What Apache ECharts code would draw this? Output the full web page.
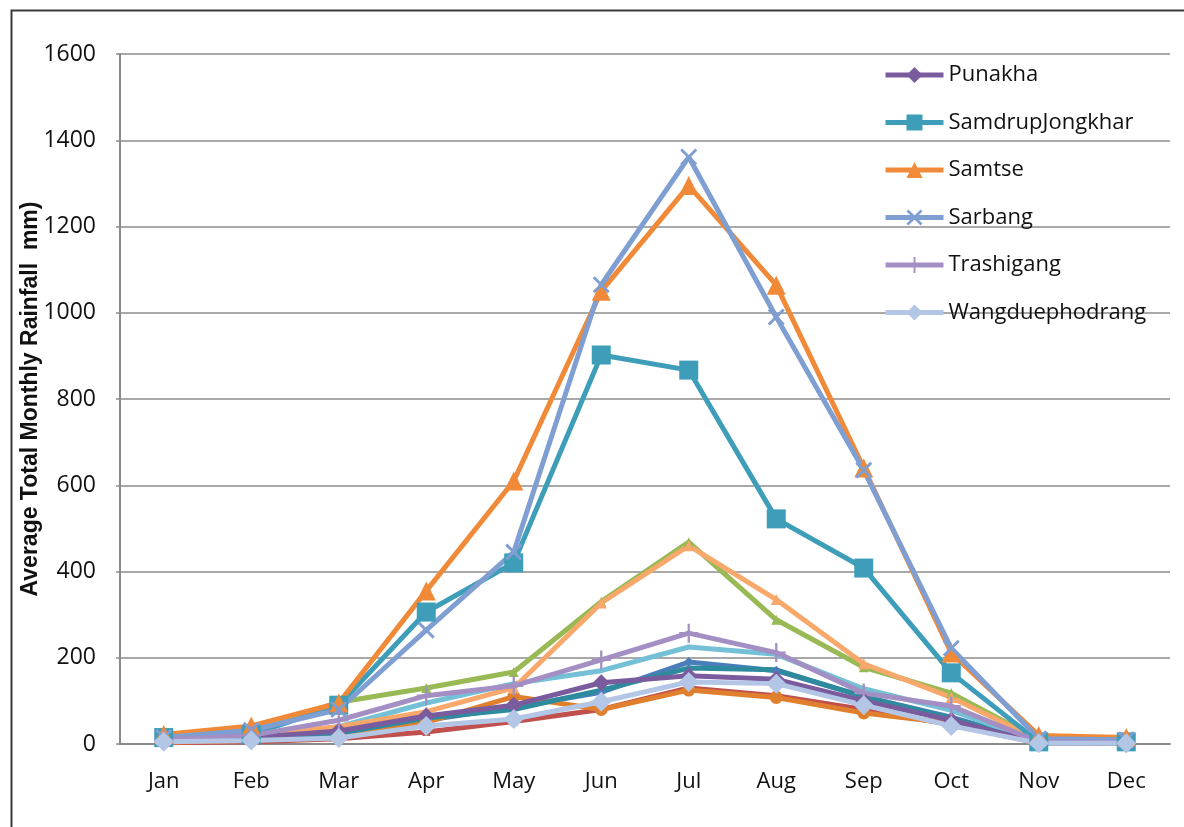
<!DOCTYPE html>
<html>
<head>
<meta charset="utf-8">
<script src="https://cdn.jsdelivr.net/npm/echarts@6/dist/echarts.min.js"></script>
<style>
html,body{margin:0;padding:0;background:#fff;}
#chart{width:1184px;height:827px;}
</style>
</head>
<body>
<div id="chart"></div>
<script>
const months = ['Jan','Feb','Mar','Apr','May','Jun','Jul','Aug','Sep','Oct','Nov','Dec'];
const yTicks = [0, 200, 400, 600, 800, 1000, 1200, 1400, 1600];
const yTitle = 'Average Total Monthly Rainfall  mm)';

// Stations not shown in the legend
const seriesA = [10, 15, 30, 55, 85, 120, 190, 170, 110, 62, 3, 2];
const seriesB = [3, 5, 12, 28, 52, 80, 130, 112, 80, 45, 2, 1];
const seriesC = [20, 30, 97, 130, 167, 330, 468, 288, 178, 118, 10, 8];
const seriesD = [4, 8, 20, 50, 110, 80, 125, 108, 72, 48, 3, 2];
const seriesE = [8, 12, 25, 60, 80, 125, 176, 172, 110, 60, 3, 2];
const seriesF = [10, 18, 40, 95, 140, 170, 225, 208, 128, 78, 5, 3];
const seriesG = [10, 20, 40, 75, 130, 327, 460, 335, 186, 108, 10, 8];

// Stations in the legend
const punakha = [10, 15, 30, 65, 90, 142, 158, 150, 100, 55, 3, 3];
const samdrupJongkhar = [15, 22, 90, 306, 420, 902, 867, 522, 408, 165, 5, 5];
const samtse = [22, 42, 95, 355, 610, 1050, 1295, 1064, 640, 211, 20, 15];
const sarbang = [15, 32, 80, 264, 445, 1065, 1361, 990, 635, 222, 12, 10];
const trashigang = [10, 20, 55, 112, 135, 195, 257, 212, 118, 88, 5, 3];
const wangduephodrang = [5, 8, 14, 42, 58, 98, 144, 140, 90, 42, 2, 2];

const legendNames = ['Punakha','SamdrupJongkhar','Samtse','Sarbang','Trashigang','Wangduephodrang'];

const CROSS = 'path://M0,1.2L1.2,0L5,3.8L8.8,0L10,1.2L6.2,5L10,8.8L8.8,10L5,6.2L1.2,10L0,8.8L3.8,5Z';
const PLUS = 'path://M4.4,0H5.6V4.4H10V5.6H5.6V10H4.4V5.6H0V4.4H4.4Z';

function mk(name, data, color, symbol, size, z) {
  return {
    name: name, type: 'line', data: data,
    symbol: symbol, symbolSize: size, showSymbol: symbol !== 'none',
    symbolKeepAspect: true,
    lineStyle: {color: color, width: 5},
    itemStyle: {color: color, borderWidth: 0},
    emphasis: {disabled: true},
    z: z, animation: false
  };
}

const series = [
  mk('Station 1', seriesA, '#4A7EBB', 'diamond', 10, 2),
  mk('Station 2', seriesB, '#C0504D', 'square', 8, 2),
  mk('Station 3', seriesC, '#98B954', 'triangle', 10, 2),
  mk('Station 4', seriesD, '#E0802E', 'circle', 13, 2),
  mk('Station 5', seriesE, '#2E8B9E', 'none', 0, 2),
  mk('Station 6', seriesF, '#74C0D6', 'none', 0, 2),
  mk('Station 7', seriesG, '#F7A86A', 'triangle', 11, 2),
  mk('Punakha', punakha, '#7A5C9E', 'diamond', 17, 3),
  mk('SamdrupJongkhar', samdrupJongkhar, '#3E9EB9', 'rect', 19, 3),
  mk('Samtse', samtse, '#F08A38', 'triangle', 19, 3),
  mk('Sarbang', sarbang, '#7F9ED2', CROSS, 17, 3),
  mk('Trashigang', trashigang, '#A38FC3', PLUS, 19, 3),
  mk('Wangduephodrang', wangduephodrang, '#B3C6E6', 'diamond', 20, 3)
];

const FONT = '"Open Sans", "Noto Sans", sans-serif';
const chart = echarts.init(document.getElementById('chart'), null, {renderer: 'canvas'});
chart.setOption({
  backgroundColor: '#ffffff',
  animation: false,
  graphic: [{
    type: 'rect', left: 9, top: 8, silent: true,
    shape: {width: 1200, height: 850},
    style: {fill: 'none', stroke: '#3a3a3a', lineWidth: 2}
  }],
  grid: {left: 120, right: 14, top: 54, bottom: 83, containLabel: false},
  legend: {
    data: legendNames,
    orient: 'vertical', left: 878, top: 58,
    itemWidth: 58, itemHeight: 20, itemGap: 23.5,
    lineStyle: {width: 5},
    textStyle: {fontFamily: FONT, fontSize: 22, color: '#111', lineHeight: 24, padding: [0,0,0,0]},
    selectedMode: false
  },
  xAxis: {
    type: 'category', data: months, boundaryGap: true,
    axisLine: {show: true, lineStyle: {color: '#8a8a8a', width: 2}},
    axisTick: {show: false},
    axisLabel: {fontFamily: FONT, fontSize: 22, color: '#111', margin: 27}
  },
  yAxis: {
    type: 'value', min: yTicks[0], max: yTicks[yTicks.length - 1], interval: 200,
    name: yTitle, nameLocation: 'middle', nameGap: 78, nameRotate: 90,
    nameMoveOverlap: false,
    nameTextStyle: {fontFamily: '"Liberation Sans", Arial, sans-serif', fontWeight: 'bold', fontSize: 23, color: '#111'},
    axisLine: {show: true, lineStyle: {color: '#8a8a8a', width: 2}},
    axisTick: {show: true, length: 4, lineStyle: {color: '#8a8a8a', width: 1.5}},
    splitLine: {show: true, lineStyle: {color: '#8c8c8c', width: 1.5}},
    axisLabel: {fontFamily: FONT, fontSize: 23, color: '#111', margin: 24,
      formatter: function (v) { return String(v); }}
  },
  series: series
});
</script>
</body>
</html>
